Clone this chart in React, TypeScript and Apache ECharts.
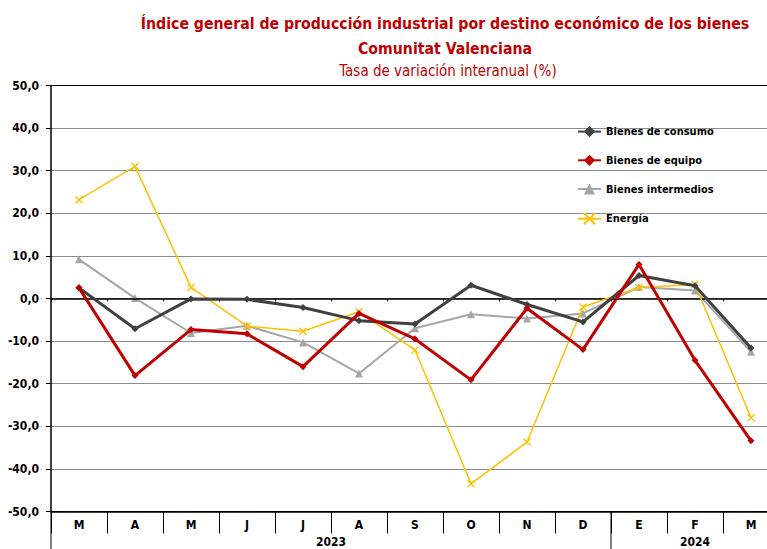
import React, { useEffect, useRef } from "react";
import * as echarts from "echarts";

const categories = ["M", "A", "M", "J", "J", "A", "S", "O", "N", "D", "E", "F", "M"];
const consumo = [2.5, -7.1, -0.1, -0.2, -2.1, -5.2, -6.0, 3.1, -1.4, -5.5, 5.4, 3.0, -11.6];
const equipo = [2.5, -18.1, -7.3, -8.3, -16.0, -3.5, -9.5, -19.1, -2.3, -12.0, 8.0, -14.5, -33.4];
const intermedios = [9.2, 0.1, -8.1, -6.4, -10.3, -17.6, -7.0, -3.7, -4.7, -3.5, 2.7, 1.9, -12.5];
const energia = [23.2, 31.0, 2.6, -6.5, -7.7, -3.1, -12.1, -43.5, -33.7, -2.0, 2.6, 3.3, -28.0];
const years = [
  { label: "2023", start: 0, end: 10 },
  { label: "2024", start: 10, end: 13 },
];
const yMin = -50;
const yMax = 50;
const yStep = 10;

const FONT = "'Liberation Sans Narrow', 'DejaVu Sans Condensed', Arial, sans-serif";

export default function App() {
  const ref = useRef<HTMLDivElement>(null);
  useEffect(() => {
    document.body.style.margin = "0";
    document.body.style.overflow = "hidden";
    if (!ref.current) return;
    const chart = echarts.init(ref.current, null, { renderer: "svg" });
    const splitColors = [] as string[];
    for (let v = yMin; v <= yMax; v += yStep) {
      splitColors.push(v === yMax || v === yMin ? "#000000" : "#8c8c8c");
    }
    const option: any = {
      animation: false,
      backgroundColor: "#ffffff",
      title: [
        {
          text: "Índice general de producción industrial por destino económico de los bienes",
          left: 440,
          top: 10,
          textAlign: "center",
          textStyle: { fontFamily: FONT, fontSize: 15.7, fontWeight: "bold", color: "#C00000" },
        },
        {
          text: "Comunitat Valenciana",
          left: 440,
          top: 35,
          textAlign: "center",
          textStyle: { fontFamily: FONT, fontSize: 15.7, fontWeight: "bold", color: "#C00000" },
        },
        {
          text: "Tasa de variación interanual (%)",
          left: 443,
          top: 58,
          textAlign: "center",
          textStyle: { fontFamily: FONT, fontSize: 15, fontWeight: "normal", color: "#C00000" },
        },
      ],
      legend: {
        orient: "vertical",
        left: 572,
        top: 121,
        itemWidth: 23,
        itemHeight: 14,
        itemGap: 17.5,
        data: ["Bienes de consumo", "Bienes de equipo", "Bienes intermedios", "Energía"],
        textStyle: { fontFamily: FONT, fontSize: 11, fontWeight: "bold", color: "#000" },
      },
      grid: { left: 51, top: 85.5, right: 11, bottom: 37.5, containLabel: false },
      xAxis: [
        {
          type: "category",
          data: categories,
          boundaryGap: true,
          axisLine: { onZero: true, lineStyle: { color: "#000", width: 1.5 } },
          axisTick: { show: true, alignWithLabel: false, length: 3, lineStyle: { color: "#000" } },
          axisLabel: { show: false },
          splitLine: { show: false },
          z: 3,
        },
        {
          type: "category",
          data: categories,
          position: "bottom",
          boundaryGap: true,
          axisLine: { onZero: false, lineStyle: { color: "#000", width: 1.5 } },
          axisTick: { show: true, alignWithLabel: false, length: 22, lineStyle: { color: "#000" } },
          axisLabel: {
            show: true,
            margin: 7,
            fontFamily: FONT,
            fontSize: 12,
            fontWeight: "bold",
            color: "#000",
          },
          splitLine: { show: false },
        },
      ],
      yAxis: {
        type: "value",
        min: yMin,
        max: yMax,
        interval: yStep,
        axisLine: { show: true, onZero: false, lineStyle: { color: "#000", width: 1.5 } },
        axisTick: { show: true, length: 5, lineStyle: { color: "#000" } },
        axisLabel: {
          margin: 12,
          fontFamily: FONT,
          fontSize: 12,
          fontWeight: "bold",
          color: "#000",
          formatter: (v: number) => v.toFixed(1).replace(".", ","),
        },
        splitLine: { show: true, lineStyle: { color: splitColors, width: 1 } },
      },
      series: [
        {
          name: "Bienes intermedios",
          type: "line",
          data: intermedios,
          symbol: "triangle",
          symbolSize: 8,
          lineStyle: { color: "#A6A6A6", width: 2 },
          itemStyle: { color: "#A6A6A6" },
          z: 2,
        },
        {
          name: "Energía",
          type: "line",
          data: energia,
          symbol: "path://M0,0L10,10M10,0L0,10",
          symbolSize: 7,
          lineStyle: { color: "#FFC000", width: 1.5 },
          itemStyle: { color: "#FFC000", borderColor: "#FFC000", borderWidth: 1.3 },
          z: 3,
        },
        {
          name: "Bienes de consumo",
          type: "line",
          data: consumo,
          symbol: "diamond",
          symbolSize: 7,
          lineStyle: { color: "#404040", width: 3 },
          itemStyle: { color: "#404040" },
          z: 4,
        },
        {
          name: "Bienes de equipo",
          type: "line",
          data: equipo,
          symbol: "diamond",
          symbolSize: 7,
          lineStyle: { color: "#C00000", width: 3 },
          itemStyle: { color: "#C00000" },
          z: 5,
        },
      ],
    };
    chart.setOption(option);

    const c0 = chart.convertToPixel({ xAxisIndex: 1 }, 0) as number;
    const c1 = chart.convertToPixel({ xAxisIndex: 1 }, 1) as number;
    const step = c1 - c0;
    const boundary = (k: number) => c0 + (k - 0.5) * step;
    const bottom = chart.convertToPixel({ yAxisIndex: 0 }, yMin) as number;
    const elements: any[] = [];
    years.forEach((y) => {
      const xs = boundary(y.start);
      const xe = boundary(y.end);
      elements.push({
        type: "line",
        shape: { x1: xs, y1: bottom, x2: xs, y2: 560 },
        style: { stroke: "#000", lineWidth: 1 },
      });
      elements.push({
        type: "text",
        x: (xs + xe) / 2,
        y: bottom + 30,
        style: {
          text: y.label,
          fontFamily: FONT,
          fontSize: 12,
          fontWeight: "bold",
          fill: "#000",
          textAlign: "center",
          textVerticalAlign: "middle",
        },
      });
    });
    chart.setOption({ graphic: elements });

    return () => chart.dispose();
  }, []);
  return (
    <div style={{ width: 767, height: 549, overflow: "hidden" }}>
      <div ref={ref} style={{ width: 790, height: 549 }} />
    </div>
  );
}
